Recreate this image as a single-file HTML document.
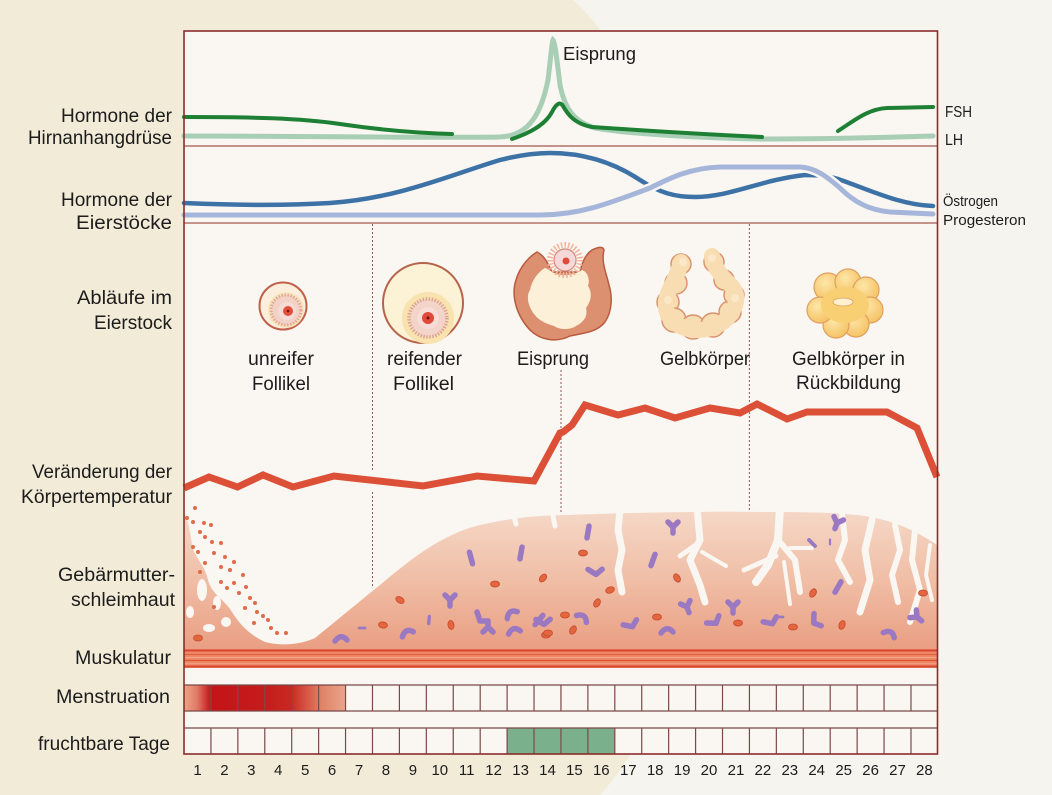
<!DOCTYPE html>
<html><head><meta charset="utf-8">
<style>
html,body{margin:0;padding:0;background:#f6f4ef;}
svg{display:block;}
text{font-family:"Liberation Sans",sans-serif;fill:#1c1c1c;}
</style></head>
<body>
<svg width="1052" height="795" viewBox="0 0 1052 795" xmlns="http://www.w3.org/2000/svg">
<defs>
  <linearGradient id="endo" x1="0" y1="510" x2="0" y2="650" gradientUnits="userSpaceOnUse">
    <stop offset="0" stop-color="#f5d8c7"/>
    <stop offset="0.5" stop-color="#f0bea6"/>
    <stop offset="1" stop-color="#e99e82"/>
  </linearGradient>
  <linearGradient id="mens" x1="184" y1="0" x2="346" y2="0" gradientUnits="userSpaceOnUse">
    <stop offset="0" stop-color="#eca488"/>
    <stop offset="0.08" stop-color="#e07a66"/>
    <stop offset="0.165" stop-color="#c41418"/>
    <stop offset="0.5" stop-color="#c41c1c"/>
    <stop offset="0.66" stop-color="#c92822"/>
    <stop offset="0.83" stop-color="#e07860"/>
    <stop offset="0.84" stop-color="#de8064"/>
    <stop offset="1" stop-color="#eaa68c"/>
  </linearGradient>
  <radialGradient id="yel" cx="0.4" cy="0.35" r="0.7">
    <stop offset="0" stop-color="#fde6a8"/>
    <stop offset="1" stop-color="#f5c060"/>
  </radialGradient>
  <g id="pA"><path d="M0,-6 L0,6" /></g>
  <g id="pB"><path d="M-5,-5 L0,0 L5,-5 M0,0 L0,6"/></g>
  <g id="pC"><path d="M-6,3 Q0,-5 6,2"/></g>
  <g id="pD"><path d="M-5,-5 L-2,4 L6,4"/></g>
  <g id="rc"><ellipse rx="4.5" ry="3" fill="#e4663f" stroke="#c64a2c" stroke-width="0.8"/></g>
</defs>

<!-- background -->
<rect width="1052" height="795" fill="#f6f4ef"/>
<path d="M0,0 L573,0 C610,30 690,150 700,400 C708,600 660,730 600,795 L0,795 Z" fill="#f2ebd8"/>

<!-- chart interior -->
<rect x="184" y="31" width="754" height="723" fill="#faf6f1"/>

<!-- separators -->
<line x1="184" y1="146" x2="938" y2="146" stroke="#a35a4c" stroke-width="1.2"/>
<line x1="184" y1="223" x2="938" y2="223" stroke="#a35a4c" stroke-width="1.2"/>

<!-- dotted lines -->
<g stroke="#8a5a55" stroke-width="1" stroke-dasharray="2,2" fill="none">
  <line x1="372.5" y1="224" x2="372.5" y2="470"/>
  <line x1="372.5" y1="492" x2="372.5" y2="586"/>
  <line x1="561" y1="370" x2="561" y2="512"/>
  <line x1="749.4" y1="224" x2="749.4" y2="512"/>
</g>

<!-- hormone curves panel 1 -->
<path d="M184,136 C300,136 450,138 500,137 C525,136 540,120 548,80 C551,55 552,42 553,40 C555,42 557,60 560,85 C565,110 575,122 595,128 C630,134 700,138 760,139 C830,139 900,137 933,136" fill="none" stroke="#a8cfb6" stroke-width="5" stroke-linecap="round"/>
<path d="M184,117 C250,117 300,118 340,124 C380,130 420,133 452,134" fill="none" stroke="#1e8034" stroke-width="4" stroke-linecap="round"/>
<path d="M512,139 C530,133 545,125 552,112 C556,104 560,101 563,106 C568,115 575,124 592,127 C650,131 720,135 762,137" fill="none" stroke="#1e8034" stroke-width="4" stroke-linecap="round"/>
<path d="M838,131 C855,120 868,109 887,108 L933,107" fill="none" stroke="#1e8034" stroke-width="4" stroke-linecap="round"/>

<!-- hormone curves panel 2 -->
<path d="M184,203 C230,205 280,206 330,203 C400,198 450,175 500,160 C520,155 535,153 550,153 C580,153 610,160 640,180 C660,193 675,197 695,197 C730,197 760,180 805,175 C820,175 828,176 838,179 C870,190 900,205 933,206" fill="none" stroke="#3c72a6" stroke-width="4.5" stroke-linecap="round"/>
<path d="M620,196 C635,192 642,191 650,188 C670,178 690,168 720,167 L800,167 C815,168 825,175 840,188 C848,196 852,199 856,201" fill="none" stroke="#faf6f1" stroke-width="10"/>
<path d="M184,215 L540,215 C580,215 610,203 650,188 C670,178 690,168 720,167 L800,167 C815,168 825,175 840,188 C855,203 870,210 890,212 L933,214" fill="none" stroke="#a6b6da" stroke-width="5" stroke-linecap="round"/>

<!-- ovary: unreifer follikel -->
<circle cx="283" cy="306" r="23.5" fill="#fbeedd" stroke="#c0604a" stroke-width="2"/>
<circle cx="286" cy="310" r="18" fill="#f8e4bc"/>
<circle cx="286" cy="310" r="15" fill="#f2d2c6" stroke="#e3a896" stroke-width="3" stroke-dasharray="1.5,1.5"/>
<circle cx="287" cy="311" r="9" fill="#f6dcd6"/>
<circle cx="288" cy="311" r="5" fill="#e2503c"/>
<circle cx="288" cy="311" r="1.3" fill="#7a1010"/>

<!-- reifender follikel -->
<circle cx="423" cy="303" r="40" fill="#fcf2d6" stroke="#b5644a" stroke-width="2"/>
<circle cx="428" cy="318" r="26" fill="#f8e2ae"/>
<circle cx="428" cy="318" r="19" fill="#f2d4c8" stroke="#dfa494" stroke-width="3.5" stroke-dasharray="1.5,1.5"/>
<circle cx="428" cy="318" r="11" fill="#f7dcd8"/>
<circle cx="428" cy="318" r="6" fill="#e04a3a"/>
<circle cx="428" cy="318" r="1.5" fill="#7a1010"/>

<!-- eisprung -->
<path d="M537,252 C530,256 520,266 516,280 C511,295 516,315 530,330 C540,340 556,343 570,336 C585,333 597,332 605,322 C613,310 612,295 609,285 C606,272 601,262 604,250 C603,246 598,247 592,250 C586,254 582,262 580,272 L552,272 C548,264 545,256 537,252 Z" fill="#dc9070" stroke="#b85a40" stroke-width="1.5"/>
<path d="M545,268 C538,272 532,280 530,290 C526,296 528,306 534,314 C540,322 548,324 554,326 C560,330 570,330 576,326 C584,322 588,316 586,308 C592,300 592,292 588,286 C590,280 588,272 582,270 C576,274 568,276 560,275 C554,274 550,270 545,268 Z" fill="#fcf0d8"/>
<circle cx="565" cy="260" r="15" fill="none" stroke="#f0b49c" stroke-width="6" stroke-dasharray="1.5,2"/>
<circle cx="565" cy="260" r="11" fill="#f5d8d8" stroke="#d88a7a" stroke-width="1.2"/>
<circle cx="566" cy="261" r="3.5" fill="#e04a3a"/>

<!-- gelbkörper -->
<g fill="#f8dcb2" stroke="#d89470" stroke-width="1.5">
  <circle cx="681" cy="264" r="10"/>
  <circle cx="676" cy="283" r="11"/>
  <circle cx="668" cy="302" r="11"/>
  <circle cx="674" cy="320" r="12"/>
  <circle cx="693" cy="327" r="12"/>
  <circle cx="713" cy="325" r="12"/>
  <circle cx="730" cy="312" r="11"/>
  <circle cx="734" cy="295" r="10"/>
  <circle cx="724" cy="280" r="10"/>
  <circle cx="714" cy="262" r="10"/>
</g>
<path d="M681,262 C676,285 660,295 668,315 C680,335 715,335 730,315 C740,300 738,290 725,280 C715,268 712,260 712,256" fill="none" stroke="#f8dcb2" stroke-width="16" stroke-linecap="round"/>
<g fill="#fbe8c8">
  <circle cx="683" cy="262" r="4"/><circle cx="712" cy="258" r="4"/>
  <circle cx="668" cy="300" r="4"/><circle cx="735" cy="298" r="4"/>
</g>

<!-- gelbkörper in rückbildung -->
<g stroke="#e0a060" stroke-width="1.2" fill="url(#yel)">
  <circle cx="828" cy="287" r="14"/>
  <circle cx="848" cy="282" r="13"/>
  <circle cx="866" cy="290" r="13"/>
  <circle cx="870" cy="310" r="13"/>
  <circle cx="856" cy="324" r="13"/>
  <circle cx="836" cy="325" r="13"/>
  <circle cx="820" cy="310" r="13"/>
</g>
<ellipse cx="845" cy="305" rx="24" ry="18" fill="#f9cf74"/>
<ellipse cx="843" cy="302" rx="10" ry="4" fill="#fff0d0" stroke="#e0a060" stroke-width="0.8"/>

<!-- endometrium -->
<path d="M184,650 L184,512 C188,520 190,530 192,545 C196,560 205,565 208,580 C212,595 225,600 232,612 C240,625 250,635 265,642 C280,646 300,645 315,638 C335,622 355,605 380,585 C410,560 440,535 480,525 C510,518 540,515 570,515 C620,513 700,511 760,512 C800,512 850,512 875,518 C895,522 915,530 937,545 L937,650 Z" fill="url(#endo)"/>
<!-- white holes / glands -->
<g fill="#faf6f1">
  <ellipse cx="196" cy="545" rx="3" ry="9"/>
  <ellipse cx="202" cy="590" rx="5" ry="11"/>
  <ellipse cx="190" cy="612" rx="4" ry="6"/>
  <ellipse cx="217" cy="603" rx="4" ry="7"/>
  <ellipse cx="226" cy="622" rx="5" ry="5"/>
  <ellipse cx="209" cy="628" rx="6" ry="4"/>
</g>
<g stroke="#faf6f1" fill="none" stroke-linecap="round" stroke-linejoin="round">
  <path d="M514,516 L516,524" stroke-width="5"/>
  <path d="M553,516 L555,526" stroke-width="5"/>
  <path d="M620,510 L618,530 L622,550 L618,570 L622,592" stroke-width="7"/>
  <path d="M697,508 L700,540 L690,560 L700,585 L705,602" stroke-width="7"/>
  <path d="M700,542 L680,556" stroke-width="5"/>
  <path d="M702,552 L726,566" stroke-width="4"/>
  <path d="M780,508 L778,540 L768,565 L756,582" stroke-width="8"/>
  <path d="M778,540 L795,560 L800,592" stroke-width="6"/>
  <path d="M776,556 L744,570" stroke-width="5"/>
  <path d="M784,562 L790,604" stroke-width="4"/>
  <path d="M790,548 L812,548" stroke-width="4"/>
  <path d="M842,514 L845,540 L838,560 L850,582" stroke-width="6"/>
  <path d="M872,520 L865,550 L870,580 L860,612" stroke-width="7"/>
  <path d="M895,525 L900,550 L892,575 L898,602" stroke-width="6"/>
  <path d="M915,530 L912,560 L920,590 L910,622" stroke-width="6"/>
  <path d="M930,545 L926,575 L932,600" stroke-width="4"/>
</g>
<!-- dots -->
<g fill="#e06a4a">
  <circle cx="195" cy="508" r="2"/><circle cx="187" cy="518" r="2"/><circle cx="193" cy="522" r="2"/><circle cx="204" cy="523" r="2"/><circle cx="211" cy="525" r="2"/><circle cx="200" cy="532" r="2"/><circle cx="205" cy="537" r="2"/><circle cx="212" cy="542" r="2"/><circle cx="221" cy="543" r="2"/><circle cx="193" cy="547" r="2"/><circle cx="198" cy="552" r="2"/><circle cx="214" cy="553" r="2"/><circle cx="225" cy="557" r="2"/><circle cx="234" cy="562" r="2"/><circle cx="205" cy="563" r="2"/><circle cx="221" cy="567" r="2"/><circle cx="230" cy="570" r="2"/><circle cx="200" cy="572" r="2"/><circle cx="243" cy="575" r="2"/><circle cx="221" cy="582" r="2"/><circle cx="234" cy="583" r="2"/><circle cx="246" cy="587" r="2"/><circle cx="227" cy="588" r="2"/><circle cx="239" cy="593" r="2"/><circle cx="250" cy="598" r="2"/><circle cx="214" cy="607" r="2"/><circle cx="255" cy="603" r="2"/><circle cx="245" cy="608" r="2"/><circle cx="257" cy="612" r="2"/><circle cx="268" cy="620" r="2"/><circle cx="254" cy="623" r="2"/><circle cx="271" cy="628" r="2"/><circle cx="277" cy="633" r="2"/><circle cx="286" cy="633" r="2"/><circle cx="263" cy="616" r="2"/>
</g>
<!-- purple cells -->
<g stroke="#9a78c2" stroke-width="5.5" stroke-linecap="round" stroke-linejoin="round" fill="none">
  <use href="#pA" transform="translate(471,558) rotate(-15)"/>
  <use href="#pA" transform="translate(521,553) rotate(10)"/>
  <use href="#pB" transform="translate(450,600)"/>
  <use href="#pA" transform="translate(429,620) rotate(5) scale(0.6)"/>
  <use href="#pC" transform="translate(407,632) rotate(-20)"/>
  <use href="#pA" transform="translate(362,628) rotate(90) scale(0.5)"/>
  <use href="#pC" transform="translate(341,638)"/>
  <use href="#pD" transform="translate(482,617)"/>
  <use href="#pB" transform="translate(488,627) rotate(180)"/>
  <use href="#pC" transform="translate(511,613) rotate(-30)"/>
  <use href="#pC" transform="translate(514,630) rotate(-10)"/>
  <use href="#pA" transform="translate(539,620) rotate(40)"/>
  <use href="#pA" transform="translate(588,532) rotate(10)"/>
  <use href="#pD" transform="translate(595,570) rotate(-40)"/>
  <use href="#pB" transform="translate(673,527)"/>
  <use href="#pA" transform="translate(653,560) rotate(20)"/>
  <use href="#pC" transform="translate(583,617) rotate(40)"/>
  <use href="#pD" transform="translate(630,623) rotate(-60)"/>
  <use href="#pB" transform="translate(687,607) rotate(-20)"/>
  <use href="#pB" transform="translate(733,607)"/>
  <use href="#pD" transform="translate(713,620) rotate(-70)"/>
  <use href="#pC" transform="translate(667,630)"/>
  <use href="#pD" transform="translate(770,620) rotate(-60)"/>
  <use href="#pA" transform="translate(780,617) rotate(90) scale(0.5)"/>
  <use href="#pD" transform="translate(817,620) rotate(20)"/>
  <use href="#pA" transform="translate(812,543) rotate(-45) scale(0.7)"/>
  <use href="#pA" transform="translate(830,542) scale(0.4)"/>
  <use href="#pB" transform="translate(837,523) rotate(20)"/>
  <use href="#pA" transform="translate(838,587) rotate(30)"/>
  <use href="#pC" transform="translate(890,633) rotate(30)"/>
  <use href="#pB" transform="translate(917,617) rotate(-50)"/>
  <use href="#pD" transform="translate(543,620) rotate(-40)"/>
</g>
<!-- red cells -->
<g>
  <use href="#rc" transform="translate(495,584)"/>
  <use href="#rc" transform="translate(543,578) rotate(-50)"/>
  <use href="#rc" transform="translate(383,625) rotate(10)"/>
  <use href="#rc" transform="translate(451,625) rotate(80)"/>
  <use href="#rc" transform="translate(198,638)"/>
  <use href="#rc" transform="translate(546,635)"/>
  <use href="#rc" transform="translate(583,553)"/>
  <use href="#rc" transform="translate(610,590) rotate(-20)"/>
  <use href="#rc" transform="translate(677,578) rotate(60)"/>
  <use href="#rc" transform="translate(597,603) rotate(-60)"/>
  <use href="#rc" transform="translate(565,615)"/>
  <use href="#rc" transform="translate(573,630) rotate(-60)"/>
  <use href="#rc" transform="translate(548,633)"/>
  <use href="#rc" transform="translate(657,617)"/>
  <use href="#rc" transform="translate(738,623)"/>
  <use href="#rc" transform="translate(793,627)"/>
  <use href="#rc" transform="translate(842,625) rotate(-70)"/>
  <use href="#rc" transform="translate(813,593) rotate(-60)"/>
  <use href="#rc" transform="translate(923,593)"/>
  <use href="#rc" transform="translate(400,600) rotate(30)"/>
</g>

<!-- muscle -->
<rect x="184" y="649" width="754" height="19" fill="#ee8a6a"/>
<g fill="none">
  <line x1="184" y1="650.5" x2="938" y2="650.5" stroke="#d9482e" stroke-width="2"/>
  <line x1="184" y1="654.5" x2="938" y2="654.5" stroke="#e3603f" stroke-width="1.2"/>
  <line x1="184" y1="657.5" x2="938" y2="657.5" stroke="#f4a688" stroke-width="1"/>
  <line x1="184" y1="660.5" x2="938" y2="660.5" stroke="#de5536" stroke-width="1.2"/>
  <line x1="184" y1="663.5" x2="938" y2="663.5" stroke="#f29c7e" stroke-width="1"/>
  <line x1="184" y1="666.5" x2="938" y2="666.5" stroke="#d9482e" stroke-width="2"/>
</g>

<!-- temperature curve -->
<polyline points="184,488 209,477 237.5,487 263,475 293,487 334,476 423,486 477,476 534,481 560,433 563,432 572,425 585,405 618,415 645,408 675,418 710,408 740,413 757,404 787,419 807,412 887,412 917,428 937,477" fill="none" stroke="#dc5038" stroke-width="7" stroke-linejoin="miter"/>

<!-- menstruation row -->
<rect x="184" y="685" width="162" height="26" fill="url(#mens)"/>
<rect x="507.1" y="728" width="107.7" height="26" fill="#7ab08c"/>
<g stroke="#7a4a4a" stroke-width="1.2" fill="none">
  <line x1="184" y1="685" x2="938" y2="685"/>
  <line x1="184" y1="711" x2="938" y2="711"/>
  <line x1="184" y1="728" x2="938" y2="728"/>
  <path d="M210.93,685V711M237.85,685V711M264.78,685V711M291.7,685V711M318.63,685V711M345.55,685V711M372.48,685V711M399.4,685V711M426.33,685V711M453.25,685V711M480.18,685V711M507.1,685V711M534.03,685V711M560.95,685V711M587.88,685V711M614.8,685V711M641.73,685V711M668.65,685V711M695.58,685V711M722.5,685V711M749.43,685V711M776.35,685V711M803.28,685V711M830.2,685V711M857.13,685V711M884.05,685V711M910.98,685V711"/>
  <path d="M210.93,728V754M237.85,728V754M264.78,728V754M291.7,728V754M318.63,728V754M345.55,728V754M372.48,728V754M399.4,728V754M426.33,728V754M453.25,728V754M480.18,728V754M507.1,728V754M534.03,728V754M560.95,728V754M587.88,728V754M614.8,728V754M641.73,728V754M668.65,728V754M695.58,728V754M722.5,728V754M749.43,728V754M776.35,728V754M803.28,728V754M830.2,728V754M857.13,728V754M884.05,728V754M910.98,728V754"/>
</g>

<!-- frame -->
<rect x="184" y="31" width="753.5" height="723" fill="none" stroke="#8b2c2c" stroke-width="1.6"/>

<!-- left labels -->
<g font-size="19">
  <text x="61" y="122" textLength="111" lengthAdjust="spacingAndGlyphs">Hormone der</text>
  <text x="28" y="144" textLength="144" lengthAdjust="spacingAndGlyphs">Hirnanhangdrüse</text>
  <text x="61" y="206" textLength="111" lengthAdjust="spacingAndGlyphs">Hormone der</text>
  <text x="76" y="229" textLength="96" lengthAdjust="spacingAndGlyphs">Eierstöcke</text>
  <text x="77" y="304" textLength="95" lengthAdjust="spacingAndGlyphs">Abläufe im</text>
  <text x="94" y="329" textLength="78" lengthAdjust="spacingAndGlyphs">Eierstock</text>
  <text x="32" y="478" textLength="140" lengthAdjust="spacingAndGlyphs">Veränderung der</text>
  <text x="21" y="503" textLength="151" lengthAdjust="spacingAndGlyphs">Körpertemperatur</text>
  <text x="58" y="581" textLength="117" lengthAdjust="spacingAndGlyphs">Gebärmutter-</text>
  <text x="71" y="606" textLength="104" lengthAdjust="spacingAndGlyphs">schleimhaut</text>
  <text x="75" y="664" textLength="96" lengthAdjust="spacingAndGlyphs">Muskulatur</text>
  <text x="56" y="703" textLength="114" lengthAdjust="spacingAndGlyphs">Menstruation</text>
  <text x="38" y="750" textLength="132" lengthAdjust="spacingAndGlyphs">fruchtbare Tage</text>
</g>

<!-- chart labels -->
<g font-size="19">
  <text x="563" y="60" font-size="18" textLength="73" lengthAdjust="spacingAndGlyphs">Eisprung</text>
  <text x="248" y="365" textLength="66" lengthAdjust="spacingAndGlyphs">unreifer</text>
  <text x="252" y="390" textLength="58" lengthAdjust="spacingAndGlyphs">Follikel</text>
  <text x="387" y="365" textLength="75" lengthAdjust="spacingAndGlyphs">reifender</text>
  <text x="393" y="390" textLength="61" lengthAdjust="spacingAndGlyphs">Follikel</text>
  <text x="517" y="365" textLength="72" lengthAdjust="spacingAndGlyphs">Eisprung</text>
  <text x="660" y="365" textLength="90" lengthAdjust="spacingAndGlyphs">Gelbkörper</text>
  <text x="792" y="365" textLength="113" lengthAdjust="spacingAndGlyphs">Gelbkörper in</text>
  <text x="796" y="389" textLength="105" lengthAdjust="spacingAndGlyphs">Rückbildung</text>
</g>

<!-- right labels -->
<g font-size="15.5">
  <text x="945" y="117" textLength="27" lengthAdjust="spacingAndGlyphs">FSH</text>
  <text x="945" y="145" textLength="18" lengthAdjust="spacingAndGlyphs">LH</text>
  <text x="943" y="206" font-size="15" textLength="55" lengthAdjust="spacingAndGlyphs">Östrogen</text>
  <text x="943" y="225" font-size="15" textLength="83" lengthAdjust="spacingAndGlyphs">Progesteron</text>
</g>

<!-- day numbers -->
<g font-size="15" text-anchor="middle" fill="#1a1a1a">
  <text x="197.5" y="775">1</text><text x="224.4" y="775">2</text><text x="251.3" y="775">3</text><text x="278.2" y="775">4</text><text x="305.2" y="775">5</text><text x="332.1" y="775">6</text><text x="359" y="775">7</text><text x="385.9" y="775">8</text><text x="412.9" y="775">9</text><text x="439.8" y="775">10</text><text x="466.7" y="775">11</text><text x="493.6" y="775">12</text><text x="520.6" y="775">13</text><text x="547.5" y="775">14</text><text x="574.4" y="775">15</text><text x="601.3" y="775">16</text><text x="628.3" y="775">17</text><text x="655.2" y="775">18</text><text x="682.1" y="775">19</text><text x="709" y="775">20</text><text x="736" y="775">21</text><text x="762.9" y="775">22</text><text x="789.8" y="775">23</text><text x="816.7" y="775">24</text><text x="843.7" y="775">25</text><text x="870.6" y="775">26</text><text x="897.5" y="775">27</text><text x="924.4" y="775">28</text>
</g>
</svg>
</body></html>
